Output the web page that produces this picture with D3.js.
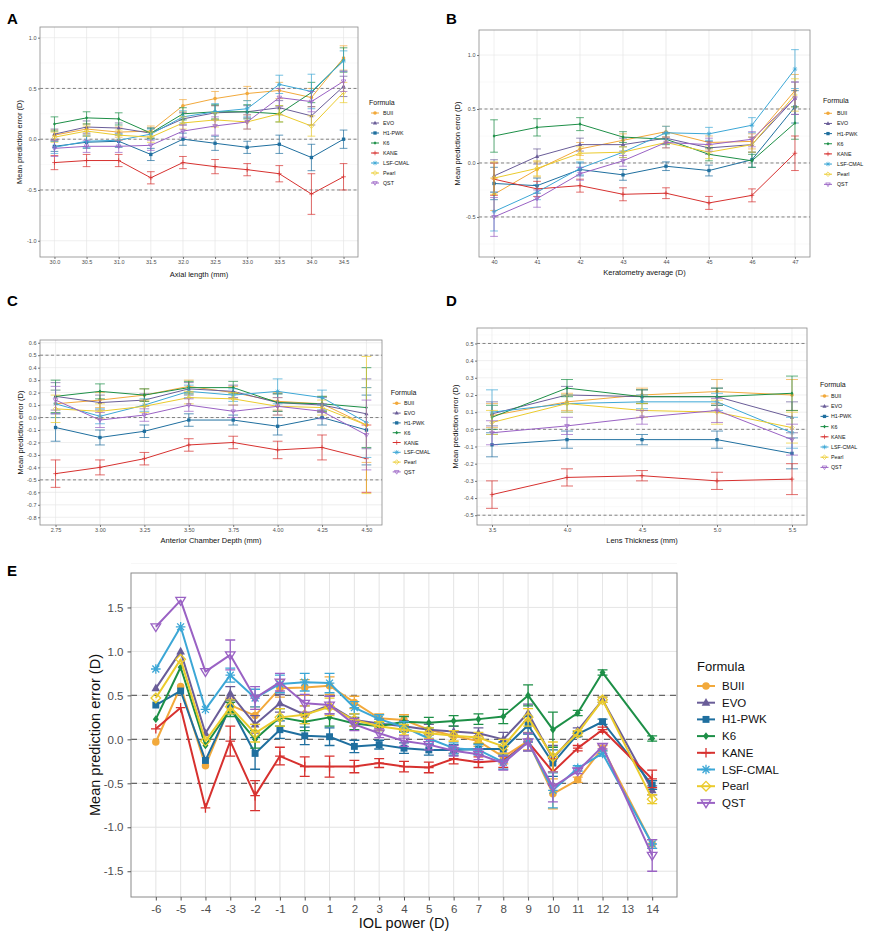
<!DOCTYPE html>
<html><head><meta charset="utf-8">
<script src="https://cdn.jsdelivr.net/npm/d3@7"></script>
<style>body{margin:0;background:#fff}</style>
</head><body>
<svg id="c" width="895" height="947"></svg>
<script>
const formulas = ["BUII","EVO","H1-PWK","K6","KANE","LSF-CMAL","Pearl","QST"];
const colors = ["#F2A93B","#6A5D98","#1F6F9F","#1D8F47","#D7312F","#3CA7D6","#EBCB2D","#9A62C4"];

// Panel A: axial length
const xA = [30.0,30.5,31.0,31.5,32.0,32.5,33.0,33.5,34.0,34.5];
const meanA = [
 [0.04,0.10,0.07,0.08,0.33,0.40,0.45,0.48,0.41,0.80],
 [0.05,0.12,0.11,0.06,0.20,0.26,0.27,0.31,0.23,0.52],
 [-0.07,-0.03,-0.02,-0.15,0.00,-0.04,-0.08,-0.05,-0.18,0.00],
 [0.15,0.21,0.20,0.06,0.25,0.27,0.27,0.25,0.46,0.78],
 [-0.23,-0.21,-0.21,-0.38,-0.23,-0.27,-0.30,-0.34,-0.54,-0.37],
 [-0.08,-0.02,-0.01,0.05,0.22,0.27,0.30,0.54,0.47,0.77],
 [0.02,0.08,0.04,0.02,0.16,0.19,0.17,0.25,0.13,0.46],
 [-0.09,-0.07,-0.07,-0.06,0.08,0.13,0.17,0.41,0.37,0.57]];
const seA = [
 [0.05,0.05,0.05,0.05,0.06,0.07,0.07,0.08,0.09,0.12],
 [0.05,0.06,0.05,0.05,0.06,0.07,0.06,0.07,0.09,0.10],
 [0.05,0.06,0.06,0.06,0.06,0.07,0.06,0.09,0.13,0.09],
 [0.07,0.06,0.06,0.05,0.06,0.07,0.07,0.08,0.10,0.12],
 [0.07,0.06,0.06,0.06,0.06,0.07,0.06,0.08,0.20,0.13],
 [0.06,0.06,0.06,0.05,0.06,0.08,0.08,0.09,0.17,0.10],
 [0.05,0.05,0.05,0.05,0.06,0.07,0.07,0.08,0.10,0.10],
 [0.08,0.06,0.06,0.05,0.06,0.09,0.07,0.09,0.10,0.10]];

// Panel B: keratometry
const xB = [40,41,42,43,44,45,46,47];
const meanB = [
 [-0.29,-0.06,0.13,0.21,0.29,0.19,0.20,0.67],
 [-0.12,0.06,0.17,0.17,0.23,0.14,0.17,0.60],
 [-0.19,-0.21,-0.06,-0.11,-0.03,-0.07,0.03,0.52],
 [0.25,0.33,0.36,0.24,0.22,0.08,0.02,0.37],
 [-0.15,-0.24,-0.21,-0.29,-0.28,-0.37,-0.30,0.09],
 [-0.45,-0.27,-0.05,0.10,0.28,0.27,0.35,0.87],
 [-0.14,-0.05,0.09,0.10,0.19,0.10,0.17,0.63],
 [-0.50,-0.33,-0.10,0.02,0.19,0.17,0.22,0.60]];
const seB = [
 [0.15,0.07,0.06,0.06,0.05,0.06,0.07,0.15],
 [0.15,0.07,0.06,0.06,0.05,0.06,0.07,0.15],
 [0.15,0.07,0.06,0.05,0.04,0.05,0.07,0.15],
 [0.15,0.08,0.06,0.05,0.05,0.06,0.06,0.15],
 [0.15,0.07,0.06,0.06,0.05,0.06,0.06,0.16],
 [0.18,0.07,0.06,0.05,0.06,0.06,0.07,0.18],
 [0.15,0.07,0.06,0.05,0.05,0.06,0.07,0.15],
 [0.18,0.08,0.06,0.05,0.05,0.06,0.07,0.15]];

// Panel C: anterior chamber depth
const xC = [2.75,3.00,3.25,3.50,3.75,4.00,4.25,4.50];
const meanC = [
 [0.11,0.14,0.18,0.25,0.20,0.13,0.11,-0.06],
 [0.17,0.12,0.14,0.23,0.21,0.12,0.10,0.03],
 [-0.08,-0.16,-0.11,-0.02,-0.02,-0.07,0.00,-0.10],
 [0.17,0.21,0.18,0.24,0.24,0.12,0.11,0.08],
 [-0.45,-0.40,-0.33,-0.22,-0.20,-0.26,-0.24,-0.33],
 [0.11,0.01,0.10,0.21,0.18,0.21,0.16,-0.04],
 [0.07,0.05,0.09,0.16,0.15,0.09,0.08,-0.06],
 [0.14,-0.02,0.02,0.10,0.05,0.09,0.05,-0.14]];
const seC = [
 [0.11,0.06,0.05,0.05,0.05,0.07,0.06,0.30],
 [0.11,0.06,0.05,0.05,0.05,0.07,0.06,0.28],
 [0.11,0.06,0.05,0.05,0.04,0.07,0.06,0.28],
 [0.13,0.06,0.05,0.05,0.05,0.07,0.06,0.32],
 [0.11,0.06,0.05,0.05,0.05,0.07,0.10,0.27],
 [0.11,0.06,0.05,0.05,0.05,0.10,0.06,0.28],
 [0.11,0.06,0.05,0.05,0.05,0.07,0.06,0.55],
 [0.11,0.06,0.05,0.05,0.05,0.07,0.06,0.28]];

// Panel D: lens thickness
const xD = [3.5,4.0,4.5,5.0,5.5];
const meanD = [
 [0.08,0.16,0.20,0.22,0.20],
 [0.09,0.20,0.19,0.19,0.07],
 [-0.09,-0.06,-0.06,-0.06,-0.14],
 [0.07,0.24,0.19,0.19,0.21],
 [-0.38,-0.28,-0.27,-0.30,-0.29],
 [0.10,0.15,0.16,0.16,-0.02],
 [0.04,0.15,0.11,0.10,0.01],
 [-0.02,0.02,0.07,0.11,-0.06]];
const seD = [
 [0.07,0.05,0.04,0.07,0.09],
 [0.07,0.05,0.04,0.05,0.09],
 [0.07,0.05,0.03,0.05,0.09],
 [0.07,0.05,0.04,0.05,0.10],
 [0.08,0.05,0.03,0.05,0.09],
 [0.13,0.05,0.04,0.05,0.09],
 [0.07,0.05,0.04,0.07,0.09],
 [0.07,0.05,0.04,0.07,0.09]];

// Panel E: IOL power
const xE = [-6,-5,-4,-3,-2,-1,0,1,2,3,4,5,6,7,8,9,10,11,12,14];
const xTicksE = [-6,-5,-4,-3,-2,-1,0,1,2,3,4,5,6,7,8,9,10,11,12,13,14];
const meanE = [
 [-0.03,0.60,-0.30,0.39,0.27,0.58,0.59,0.61,0.42,0.24,0.22,0.11,0.04,-0.02,-0.20,-0.02,-0.62,-0.46,-0.10,-1.19],
 [0.58,1.00,0.07,0.52,0.17,0.41,0.28,0.39,0.22,0.18,0.15,0.11,0.09,0.07,0.00,0.30,-0.22,0.10,0.45,-0.58],
 [0.39,0.55,-0.24,0.37,-0.16,0.11,0.04,0.03,-0.08,-0.06,-0.10,-0.12,-0.12,-0.11,-0.11,0.16,-0.27,0.06,0.20,-0.52],
 [0.23,0.82,-0.07,0.34,0.00,0.25,0.20,0.25,0.18,0.15,0.20,0.19,0.21,0.23,0.26,0.50,0.11,0.30,0.76,0.01],
 [0.12,0.36,-0.78,-0.02,-0.64,-0.19,-0.31,-0.31,-0.31,-0.27,-0.31,-0.32,-0.22,-0.26,-0.24,-0.03,-0.37,-0.10,0.11,-0.45],
 [0.80,1.28,0.34,0.73,0.47,0.63,0.65,0.64,0.36,0.23,0.14,0.01,-0.10,-0.12,-0.26,-0.03,-0.58,-0.33,-0.16,-1.19],
 [0.47,0.91,-0.02,0.37,0.07,0.25,0.28,0.37,0.22,0.15,0.11,0.07,0.04,0.02,-0.08,0.25,-0.20,0.07,0.45,-0.68],
 [1.28,1.58,0.77,0.96,0.47,0.65,0.41,0.39,0.17,0.07,-0.02,-0.06,-0.13,-0.17,-0.27,-0.03,-0.54,-0.36,-0.08,-1.32]];
const seE = [
 [0,0,0,0.08,0.10,0.10,0.09,0.10,0.07,0.05,0.06,0.06,0.06,0.06,0.08,0.10,0.17,0.03,0.03,0.05],
 [0,0,0,0.08,0.10,0.10,0.10,0.10,0.07,0.05,0.06,0.06,0.06,0.06,0.08,0.10,0.15,0.03,0.03,0.05],
 [0,0,0,0.08,0.18,0.10,0.10,0.10,0.07,0.05,0.06,0.06,0.06,0.06,0.08,0.10,0.15,0.03,0.03,0.05],
 [0,0,0,0.08,0.10,0.10,0.10,0.10,0.07,0.05,0.06,0.06,0.06,0.06,0.08,0.12,0.20,0.03,0.03,0.03],
 [0,0,0,0.17,0.17,0.10,0.11,0.12,0.07,0.05,0.06,0.06,0.06,0.06,0.08,0.10,0.15,0.03,0.03,0.10],
 [0,0,0,0.08,0.10,0.10,0.10,0.11,0.07,0.05,0.06,0.06,0.06,0.06,0.08,0.10,0.20,0.03,0.03,0.05],
 [0,0,0,0.08,0.10,0.10,0.10,0.10,0.07,0.05,0.06,0.06,0.06,0.06,0.08,0.10,0.17,0.03,0.03,0.05],
 [0,0,0,0.17,0.13,0.10,0.10,0.10,0.07,0.05,0.06,0.06,0.06,0.06,0.08,0.10,0.17,0.03,0.03,0.18]];

const refLines = [-0.5, 0, 0.5];
const FONT = "'Liberation Sans', Arial, Helvetica, sans-serif";
const svg = d3.select("#c");

function fmt(spec){ const f = d3.format(spec); return v => f(v).replace("\u2212","-"); }

function shapePath(i, s){
  const c = (pts) => "M" + pts.map(p => p[0].toFixed(2)+","+p[1].toFixed(2)).join("L") + "Z";
  switch(i){
    case 0: { const r = s*0.78; return `M${-r},0A${r},${r} 0 1,0 ${r},0A${r},${r} 0 1,0 ${-r},0Z`; }
    case 1: return c([[0,-s],[s*0.9,s*0.62],[-s*0.9,s*0.62]]);
    case 2: { const h = s*0.72; return c([[-h,-h],[h,-h],[h,h],[-h,h]]); }
    case 3: return c([[0,-s*0.8],[s*0.62,0],[0,s*0.8],[-s*0.62,0]]);
    case 4: return `M${-s},0H${s}M0,${-s}V${s}`;
    case 5: { const d = s*0.72; return `M${-s},0H${s}M0,${-s}V${s}M${-d},${-d}L${d},${d}M${-d},${d}L${d},${-d}`; }
    case 6: return c([[0,-s],[s,0],[0,s],[-s,0]]);
    case 7: return c([[-s,-s*0.62],[s,-s*0.62],[0,s]]);
  }
}
function drawShape(g, i, cx, cy, s, sw){
  const filled = i < 4;
  g.append("path").attr("d", shapePath(i, s))
   .attr("transform", `translate(${cx},${cy})`)
   .attr("fill", filled ? colors[i] : "none")
   .attr("stroke", filled ? "none" : colors[i])
   .attr("stroke-width", sw);
}

function panel(cfg){
  const g = svg.append("g");
  const x = d3.scaleLinear().domain(cfg.xd).range([cfg.L, cfg.R]);
  const y = d3.scaleLinear().domain(cfg.yd).range([cfg.B, cfg.T]);
  // grid
  const grid = g.append("g");
  cfg.xMinor.forEach(v => grid.append("line").attr("x1",x(v)).attr("x2",x(v)).attr("y1",cfg.T).attr("y2",cfg.B).attr("stroke","#F1F1F1").attr("stroke-width",cfg.gw*0.6));
  cfg.yMinor.forEach(v => grid.append("line").attr("y1",y(v)).attr("y2",y(v)).attr("x1",cfg.L).attr("x2",cfg.R).attr("stroke","#F1F1F1").attr("stroke-width",cfg.gw*0.6));
  cfg.xTicks.forEach(v => grid.append("line").attr("x1",x(v)).attr("x2",x(v)).attr("y1",cfg.T).attr("y2",cfg.B).attr("stroke","#E6E6E6").attr("stroke-width",cfg.gw));
  cfg.yTicks.forEach(v => grid.append("line").attr("y1",y(v)).attr("y2",y(v)).attr("x1",cfg.L).attr("x2",cfg.R).attr("stroke","#E6E6E6").attr("stroke-width",cfg.gw));
  // reference dashed lines
  refLines.forEach(v => g.append("line").attr("x1",cfg.L).attr("x2",cfg.R).attr("y1",y(v)).attr("y2",y(v))
    .attr("stroke","#666").attr("stroke-width",cfg.dw).attr("stroke-dasharray",cfg.dash));
  // series
  const line = d3.line().x(d => x(d[0])).y(d => y(d[1]));
  cfg.means.forEach((m, i) => {
    const pts = cfg.xs.map((xv, j) => [xv, m[j], cfg.ses[i][j]]);
    const sg = g.append("g");
    sg.append("path").attr("d", line(pts)).attr("fill","none").attr("stroke",colors[i]).attr("stroke-width",cfg.lw).attr("stroke-linejoin","round");
    pts.forEach(p => {
      if (p[2] > 0) {
        const x0 = x(p[0] - cfg.cap/2), x1 = x(p[0] + cfg.cap/2), xc = x(p[0]);
        const yl = y(p[1]-p[2]), yh = y(p[1]+p[2]);
        sg.append("path").attr("d", `M${x0},${yh}H${x1}M${xc},${yh}V${yl}M${x0},${yl}H${x1}`)
          .attr("fill","none").attr("stroke",colors[i]).attr("stroke-width",cfg.ew);
      }
      drawShape(sg, i, x(p[0]), y(p[1]), cfg.ps, cfg.ew);
    });
  });
  // border
  g.append("rect").attr("x",cfg.L).attr("y",cfg.T).attr("width",cfg.R-cfg.L).attr("height",cfg.B-cfg.T)
   .attr("fill","none").attr("stroke","#8A8A8A").attr("stroke-width",cfg.bw);
  // axes
  const ax = g.append("g").attr("transform",`translate(0,${cfg.B})`)
    .call(d3.axisBottom(x).tickValues(cfg.xTicks).tickFormat(fmt(cfg.xFmt)).tickSize(cfg.ts).tickPadding(cfg.tp));
  const ay = g.append("g").attr("transform",`translate(${cfg.L},0)`)
    .call(d3.axisLeft(y).tickValues(cfg.yTicks).tickFormat(fmt(cfg.yFmt)).tickSize(cfg.ts).tickPadding(cfg.tp));
  [ax, ay].forEach(a => {
    a.select(".domain").remove();
    a.selectAll(".tick line").attr("stroke","#555").attr("stroke-width",cfg.bw);
    a.selectAll(".tick text").attr("fill","#4D4D4D").style("font-family",FONT).style("font-size",cfg.tf+"px");
  });
  // titles
  g.append("text").attr("x",(cfg.L+cfg.R)/2).attr("y",cfg.xtY).attr("text-anchor","middle")
   .style("font-family",FONT).style("font-size",cfg.af+"px").attr("fill","#111").text(cfg.xTitle);
  g.append("text").attr("transform",`translate(${cfg.ytX},${(cfg.T+cfg.B)/2}) rotate(-90)`).attr("text-anchor","middle")
   .attr("dominant-baseline","central")
   .style("font-family",FONT).style("font-size",cfg.af+"px").attr("fill","#111").text("Mean prediction error (D)");
  // legend
  const L = cfg.leg;
  const lg = g.append("g");
  lg.append("text").attr("x",L.tx).attr("y",L.ty).attr("dominant-baseline","central")
    .style("font-family",FONT).style("font-size",L.tfs+"px").attr("fill","#111").text("Formula");
  formulas.forEach((f, i) => {
    const cy = L.y0 + i*L.dy;
    lg.append("line").attr("x1",L.kx-L.kh).attr("x2",L.kx+L.kh).attr("y1",cy).attr("y2",cy)
      .attr("stroke",colors[i]).attr("stroke-width",cfg.lw);
    drawShape(lg, i, L.kx, cy, cfg.ps, cfg.ew);
    lg.append("text").attr("x",L.lx).attr("y",cy).attr("dominant-baseline","central")
      .style("font-family",FONT).style("font-size",L.fs+"px").attr("fill","#111").text(f);
  });
  // panel letter
  svg.append("text").attr("x",cfg.letter[1]).attr("y",cfg.letter[2])
    .style("font-family",FONT).style("font-size",cfg.letter[3]+"px").style("font-weight","bold").attr("fill","#000").text(cfg.letter[0]);
}

const rng = (a,b,s) => d3.range(Math.round(a/s), Math.round(b/s)+1).map(k => +(k*s).toFixed(4));
const small = {gw:0.6, dw:0.8, dash:"3,2.5", lw:1, ew:0.7, ps:2.3, bw:0.8, ts:2, tp:1.5, tf:5.5, af:7.5};

panel(Object.assign({}, small, {
  L:40, R:358, T:27, B:257, xd:[29.775,34.725], yd:[-1.16,1.105],
  xs:xA, means:meanA, ses:seA, cap:0.12,
  xTicks:xA, yTicks:rng(-1,1,0.5), xMinor:rng(30.25,34.25,0.5), yMinor:[-0.75,-0.25,0.25,0.75],
  xFmt:".1f", yFmt:".1f", xTitle:"Axial length (mm)", xtY:276.5, ytX:19,
  leg:{tx:369, ty:102, y0:113, dy:10, kx:375, kh:4, lx:383, fs:5.3, tfs:7},
  letter:["A",7,24,15]
}));
panel(Object.assign({}, small, {
  L:479, R:810, T:30, B:257, xd:[39.65,47.35], yd:[-0.871,1.232],
  xs:xB, means:meanB, ses:seB, cap:0.18,
  xTicks:xB, yTicks:rng(-0.5,1,0.5), xMinor:rng(40.5,46.5,1), yMinor:[-0.75,-0.25,0.25,0.75],
  xFmt:"d", yFmt:".1f", xTitle:"Keratometry average (D)", xtY:274.5, ytX:457,
  leg:{tx:823, ty:100.7, y0:113.3, dy:10.15, kx:828, kh:4, lx:837, fs:5.3, tfs:7},
  letter:["B",446,24,15]
}));
panel(Object.assign({}, small, {
  L:40, R:382, T:340, B:525, xd:[2.6625,4.5875], yd:[-0.862,0.622],
  xs:xC, means:meanC, ses:seC, cap:0.055,
  xTicks:xC, yTicks:rng(-0.8,0.6,0.1), xMinor:rng(2.875,4.375,0.25), yMinor:rng(-0.85,0.55,0.1).filter((v,i)=>true).map(v=>+(v).toFixed(2)),
  xFmt:".2f", yFmt:".1f", xTitle:"Anterior Chamber Depth (mm)", xtY:543, ytX:20,
  leg:{tx:390.7, ty:392.3, y0:403.3, dy:9.8, kx:396.7, kh:4, lx:404, fs:5.3, tfs:7},
  letter:["C",7,306,15]
}));
panel(Object.assign({}, small, {
  L:477, R:807, T:328, B:525, xd:[3.4,5.6], yd:[-0.557,0.59],
  xs:xD, means:meanD, ses:seD, cap:0.08,
  xTicks:xD, yTicks:rng(-0.5,0.5,0.1), xMinor:[3.75,4.25,4.75,5.25], yMinor:d3.range(11).map(k=>+(-0.45+k*0.1).toFixed(2)),
  xFmt:".1f", yFmt:".1f", xTitle:"Lens Thickness (mm)", xtY:543, ytX:455,
  leg:{tx:820, ty:384, y0:396, dy:10.2, kx:824.5, kh:4, lx:831, fs:5.3, tfs:7},
  letter:["D",446,306,15]
}));
panel({
  gw:1, dw:1.3, dash:"6,5", lw:2, ew:1.3, ps:4.8, bw:1, ts:3.5, tp:4, tf:11.5, af:14.5,
  L:131, R:677, T:573, B:897, xd:[-7,15], yd:[-1.793,1.892],
  xs:xE, means:meanE, ses:seE, cap:0.4,
  xTicks:xTicksE, yTicks:rng(-1.5,1.5,0.5), xMinor:rng(-6.5,14.5,1), yMinor:rng(-1.75,1.75,0.5),
  xFmt:"d", yFmt:".1f", xTitle:"IOL power (D)", xtY:928, ytX:95,
  leg:{tx:697, ty:666, y0:686, dy:16.7, kx:706, kh:9, lx:722, fs:11.5, tfs:13},
  letter:["E",7,576,15]
});
</script>
</body></html>
